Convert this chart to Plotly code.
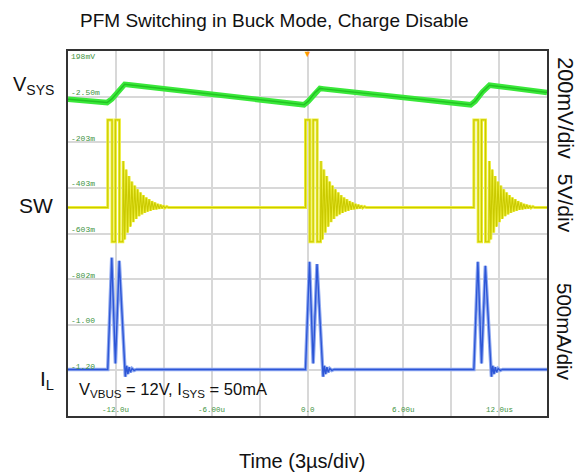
import plotly.graph_objects as go

# ---- axes: time in microseconds, vertical in scope divisions (0 bottom .. 8 top)
x_range = [-15, 15]
y_range = [0, 8]
x_tick_vals = [-12, -6, 0, 6, 12]
x_tick_text = ["-12.0u", "-6.00u", "0.0", "6.00u", "12.0us"]
y_tick_vals = [8, 7, 6, 5, 4, 3, 2, 1]
y_tick_text = ["198mV", "-2.50m", "-203m", "-403m", "-603m", "-802m", "-1.00", "-1.20"]

# ---- VSYS (green, 200mV/div)
vsys_t = [-15.0, -12.55, -12.25, -11.8, -11.45, -11.2, -0.22, 0.05, 0.45, 0.78, 1.0,
          10.22, 10.5, 10.95, 11.4, 11.6, 15.0]
vsys_v = [6.94, 6.87, 6.95, 7.14, 7.27, 7.26, 6.82, 6.90, 7.08, 7.18, 7.17,
          6.82, 6.90, 7.10, 7.25, 7.24, 7.09]

# ---- switching bursts (start times, us)
burst_start = [-12.51, -0.125, 10.42]

# ---- SW (yellow, 5V/div)
sw_base = 4.57
sw_dt = [0.00, 0.00, 0.27, 0.27, 0.48, 0.48, 0.73, 0.73, 0.94,
         0.97, 1.06, 1.15, 1.24, 1.33, 1.42, 1.51, 1.60, 1.69, 1.78, 1.87, 1.96,
         2.05, 2.14, 2.23, 2.32, 2.41, 2.50, 2.59, 2.68, 2.77, 2.86, 2.95, 3.04,
         3.13, 3.22, 3.31, 3.40, 3.49, 3.58, 3.70, 3.80]
sw_v = [4.57, 6.49, 6.49, 3.82, 3.82, 6.49, 6.49, 3.82, 3.82,
        5.59, 3.87, 5.40, 4.02, 5.26, 4.15, 5.14, 4.25, 5.05, 4.32, 4.97, 4.38,
        4.90, 4.42, 4.84, 4.45, 4.79, 4.48, 4.75, 4.50, 4.71, 4.52, 4.68, 4.53,
        4.65, 4.54, 4.63, 4.55, 4.61, 4.56, 4.59, 4.57]

# ---- IL (blue, 500mA/div)
il_base = 1.02
il_dt = [0.00, 0.25, 0.48, 0.72, 1.05, 1.10, 1.18, 1.26, 1.34, 1.42, 1.52, 1.65, 1.80]
il_v = [1.02, 3.45, 1.15, 3.40, 1.02, 0.86, 1.10, 0.92, 1.07, 0.96, 1.04, 1.00, 1.02]
il_peak1 = [3.47, 3.38, 3.38]
il_peak2 = [3.40, 3.33, 3.29]


def build(dts, vals, base, peaks=None):
    xs, ys = [x_range[0]], [base]
    for i, s in enumerate(burst_start):
        v = list(vals)
        if peaks is not None:
            v[1] = peaks[0][i]
            v[3] = peaks[1][i]
        xs.append(s)
        ys.append(base)
        for dt, val in zip(dts, v):
            xs.append(s + dt)
            ys.append(val)
    xs.append(x_range[1])
    ys.append(base)
    return xs, ys


sw_x, sw_y = build(sw_dt, sw_v, sw_base)
il_x, il_y = build(il_dt, il_v, il_base, (il_peak1, il_peak2))

fig = go.Figure()
# SW
fig.add_trace(go.Scatter(x=sw_x, y=sw_y, mode="lines",
                         line=dict(color="#eded3a", width=3.0), hoverinfo="skip"))
fig.add_trace(go.Scatter(x=sw_x, y=sw_y, mode="lines",
                         line=dict(color="#caca00", width=1.1), hoverinfo="skip"))
# VSYS
fig.add_trace(go.Scatter(x=vsys_t, y=vsys_v, mode="lines",
                         line=dict(color="#3ae83a", width=5.5), hoverinfo="skip"))
fig.add_trace(go.Scatter(x=vsys_t, y=vsys_v, mode="lines",
                         line=dict(color="#22c422", width=1.5), hoverinfo="skip"))
# IL
fig.add_trace(go.Scatter(x=il_x, y=il_y, mode="lines",
                         line=dict(color="#8fa9f0", width=3.5), hoverinfo="skip"))
fig.add_trace(go.Scatter(x=il_x, y=il_y, mode="lines",
                         line=dict(color="#2d56d6", width=1.4), hoverinfo="skip"))

ann = []
tick_font = dict(family="Liberation Mono, DejaVu Sans Mono, monospace", size=8, color="#3f943f")
for v, t in zip(y_tick_vals, y_tick_text):
    ann.append(dict(x=x_range[0], y=v, xref="x", yref="y", text=t, showarrow=False,
                    xanchor="left", yanchor="middle", xshift=1,
                    yshift=(-5 if v == 8 else 4), font=tick_font))
for v, t in zip(x_tick_vals, x_tick_text):
    ann.append(dict(x=v, y=0, xref="x", yref="y", text=t, showarrow=False,
                    xanchor="center", yanchor="bottom", yshift=0,
                    font=dict(family=tick_font["family"], size=7.5, color="#3f943f")))

big = dict(family="Liberation Sans, Arial, sans-serif", color="#111111")
ann += [
    dict(xref="paper", yref="paper", x=0.432, y=1.083, text="PFM Switching in Buck Mode, Charge Disable",
         showarrow=False, xanchor="center", yanchor="middle", font=dict(big, size=19)),
    dict(xref="paper", yref="paper", x=0.4885, y=-0.123, text="Time (3µs/div)",
         showarrow=False, xanchor="center", yanchor="middle", font=dict(big, size=20)),
    dict(xref="paper", yref="paper", x=1.0376, y=0.843, text="200mV/div", textangle=90,
         showarrow=False, xanchor="center", yanchor="middle", font=dict(big, size=21.5)),
    dict(xref="paper", yref="paper", x=1.0376, y=0.584, text="5V/div", textangle=90,
         showarrow=False, xanchor="center", yanchor="middle", font=dict(big, size=21)),
    dict(xref="paper", yref="paper", x=1.0376, y=0.23, text="500mA/div", textangle=90,
         showarrow=False, xanchor="center", yanchor="middle", font=dict(big, size=20.5)),
    dict(xref="paper", yref="paper", x=-0.118, y=0.905, text="V<sub>SYS</sub>",
         showarrow=False, xanchor="left", yanchor="middle", font=dict(big, size=20)),
    dict(xref="paper", yref="paper", x=-0.107, y=0.578, text="SW",
         showarrow=False, xanchor="left", yanchor="middle", font=dict(big, size=21)),
    dict(xref="paper", yref="paper", x=-0.062, y=0.10, text="I<sub>L</sub>",
         showarrow=False, xanchor="left", yanchor="middle", font=dict(big, size=21)),
    dict(xref="paper", yref="paper", x=0.0188, y=0.0712, text="V<sub>VBUS</sub> = 12V, I<sub>SYS</sub> = 50mA",
         showarrow=False, xanchor="left", yanchor="middle", font=dict(big, size=16.5)),
    # channel markers
    dict(x=-15.45, y=6.97, xref="x", yref="y", text="2", showarrow=False,
         bgcolor="#1fbf1f", bordercolor="#0a7a0a", borderwidth=1, borderpad=2,
         font=dict(family="Liberation Mono", size=8, color="#0a5a0a")),
    dict(x=-15.4, y=3.95, xref="x", yref="y", text="1▸", showarrow=False,
         font=dict(family="Liberation Mono", size=8, color="#e6e600")),
    dict(x=-15.4, y=1.45, xref="x", yref="y", text="T▸", showarrow=False,
         font=dict(family="Liberation Mono", size=8, color="#5a80e8")),
    dict(x=-15.4, y=0.96, xref="x", yref="y", text="3▸", showarrow=False,
         font=dict(family="Liberation Mono", size=8, color="#5a80e8")),
    dict(x=0, y=8, xref="x", yref="y", text="▼", showarrow=False, yshift=-2,
         font=dict(size=9, color="#ff9900")),
]

fig.update_layout(
    width=578, height=476,
    margin=dict(l=68, r=31, t=51, b=60),
    paper_bgcolor="white", plot_bgcolor="white",
    showlegend=False,
    annotations=ann,
    xaxis=dict(range=x_range, dtick=3, tick0=0, showgrid=True, gridcolor="#d8d8d8", gridwidth=1.5,
               zeroline=False, showticklabels=False, ticks="",
               showline=True, linecolor="#333333", linewidth=2, mirror=True),
    yaxis=dict(range=y_range, dtick=1, tick0=0, showgrid=True, gridcolor="#d8d8d8", gridwidth=1.5,
               zeroline=False, showticklabels=False, ticks="",
               showline=True, linecolor="#333333", linewidth=2, mirror=True),
)

# remove the browser's default 8px body margin so the figure fills the window exactly
fig.write_html("out.html",
               config={"displayModeBar": False},
               post_script="document.body.style.margin='0';document.body.style.overflow='hidden';")
